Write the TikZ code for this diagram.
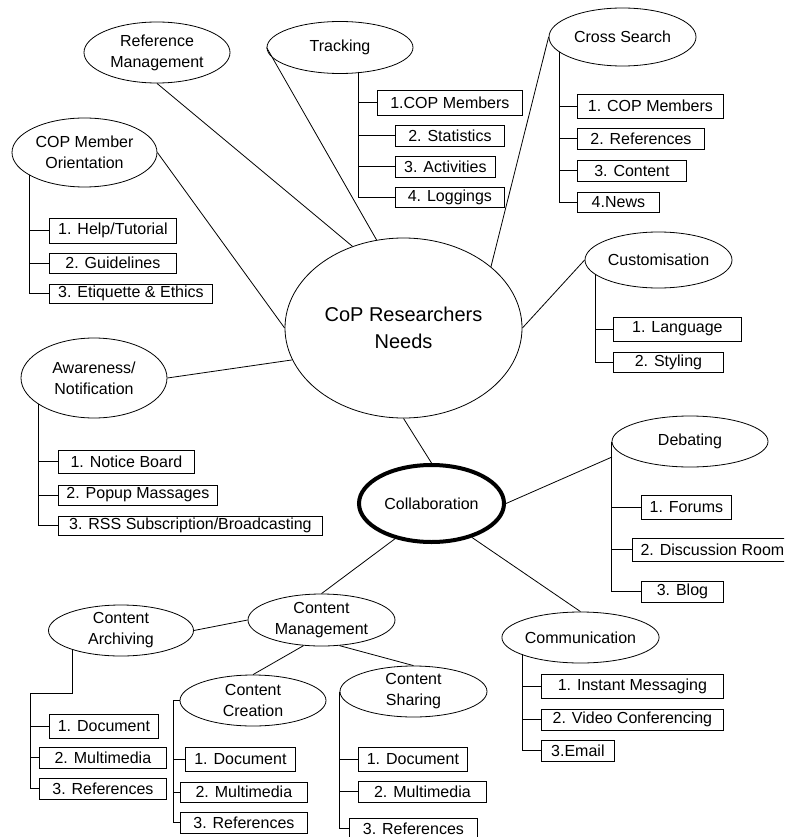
\documentclass[tikz,border=0pt]{standalone}
\usepackage{fontspec}
\setmainfont{Liberation Sans}
\usetikzlibrary{shapes.geometric}

\begin{document}
\begin{tikzpicture}[x=1pt, y=-1pt, line width=0.8pt,
  need/.style={ellipse, draw, inner sep=0pt, align=center, font=\fontsize{16}{21}\selectfont},
  item/.style={rectangle, draw, inner sep=0pt, anchor=west, font=\fontsize{16}{19}\selectfont}]
  \useasboundingbox (0,0) rectangle (784,837);
  \clip (0,0) rectangle (784,837);

  % centre and collaboration
  \node[need, minimum width=237pt, minimum height=180pt, font=\fontsize{20}{27}\selectfont] (cop) at (403.5,328) {CoP Researchers\\Needs};
  \node[need, line width=4pt, minimum width=145pt, minimum height=77pt] (collab) at (431.5,503.5) {Collaboration};

  % needs round the centre
  \node[need, minimum width=146pt, minimum height=61pt] (refm) at (157,52.5) {Reference\\Management};
  \node[need, minimum width=146pt, minimum height=52pt] (trk) at (340,47.5) {Tracking};
  \node[need, minimum width=147pt, minimum height=58pt] (xsr) at (622.5,37) {Cross Search};
  \node[need, minimum width=147pt, minimum height=56pt] (cust) at (658.5,260) {Customisation};
  \node[need, minimum width=145pt, minimum height=69pt] (orient) at (84.5,152.5) {COP Member\\Orientation};
  \node[need, minimum width=146pt, minimum height=80pt] (aware) at (94,378) {Awareness/\\Notification};

  % needs under collaboration
  \node[need, minimum width=156pt, minimum height=51pt] (deb) at (690,441.5) {Debating};
  \node[need, minimum width=155pt, minimum height=51pt] (com) at (580.5,637.5) {Communication};
  \node[need, minimum width=147pt, minimum height=52pt] (cmg) at (321.5,620) {Content\\Management};
  \node[need, minimum width=145pt, minimum height=51pt] (carch) at (121,630.5) {Content\\Archiving};
  \node[need, minimum width=146pt, minimum height=51pt] (ccre) at (253,700.5) {Content\\Creation};
  \node[need, minimum width=147pt, minimum height=51pt] (cshr) at (413.5,691.5) {Content\\Sharing};

  % tracking list
  \node[item, minimum width=145pt, minimum height=25pt] (trk1) at (377,102.5) {1.COP Members};
  \node[item, minimum width=109pt, minimum height=21pt] (trk2) at (395,135.5) {2. Statistics};
  \node[item, minimum width=100pt, minimum height=21pt] (trk3) at (395,166.5) {3. Activities};
  \node[item, minimum width=109pt, minimum height=20pt] (trk4) at (395,197) {4. Loggings};
  \coordinate (trkT) at (358,72);

  % cross search list
  \node[item, minimum width=146pt, minimum height=24pt] (xs1) at (577,106) {1. COP Members};
  \node[item, minimum width=127pt, minimum height=21pt] (xs2) at (577,138.5) {2. References};
  \node[item, minimum width=109pt, minimum height=21pt] (xs3) at (577,170.5) {3. Content};
  \node[item, minimum width=82pt, minimum height=20pt] (xs4) at (577,202) {4.News};
  \coordinate (xsrT) at (559,52);

  % customisation list
  \node[item, minimum width=128pt, minimum height=24pt] (cu1) at (613,329) {1. Language};
  \node[item, minimum width=110pt, minimum height=20pt] (cu2) at (613,362) {2. Styling};
  \coordinate (custT) at (595,274);

  % orientation list
  \node[item, minimum width=127pt, minimum height=25pt] (or1) at (49,230.5) {1. Help/Tutorial};
  \node[item, minimum width=127pt, minimum height=20pt] (or2) at (49,263) {2. Guidelines};
  \node[item, minimum width=163pt, minimum height=19pt] (or3) at (49,293.5) {3. Etiquette \& Ethics};
  \coordinate (orientT) at (29,175);

  % awareness list
  \node[item, minimum width=136pt, minimum height=23pt] (aw1) at (58,461.5) {1. Notice Board};
  \node[item, minimum width=159pt, minimum height=20pt] (aw2) at (58,495) {2. Popup Massages};
  \node[item, minimum width=264pt, minimum height=19pt] (aw3) at (58,525.5) {3. RSS Subscription/Broadcasting};
  \coordinate (awareT) at (38,404);

  % debating list
  \node[item, minimum width=90pt, minimum height=24pt] (db1) at (641,507) {1. Forums};
  \node[item, minimum width=160pt, minimum height=23pt] (db2) at (632,549.5) {2. Discussion Room};
  \node[item, minimum width=82pt, minimum height=21pt] (db3) at (641,591.5) {3. Blog};
  \coordinate (debJ) at (612,457);

  % communication list
  \node[item, minimum width=182pt, minimum height=24pt] (com1) at (541,686) {1. Instant Messaging};
  \node[item, minimum width=182pt, minimum height=21pt] (com2) at (541,719.5) {2. Video Conferencing};
  \node[item, minimum width=73pt, minimum height=21pt] (com3) at (541,750.5) {3.Email};
  \coordinate (comT) at (522,654);

  % content lists
  \node[item, minimum width=109pt, minimum height=24pt] (ca1) at (49,726) {1. Document};
  \node[item, minimum width=127pt, minimum height=21pt] (ca2) at (39,757.5) {2. Multimedia};
  \node[item, minimum width=127pt, minimum height=21pt] (ca3) at (39,788.5) {3. References};
  \coordinate (carchT) at (72,649);
  \coordinate (carchK) at (30,693);

  \node[item, minimum width=110pt, minimum height=24pt] (cc1) at (185,759) {1. Document};
  \node[item, minimum width=127pt, minimum height=20pt] (cc2) at (180,792) {2. Multimedia};
  \node[item, minimum width=127pt, minimum height=21pt] (cc3) at (180,822.5) {3. References};
  \coordinate (ccreK) at (173,700.5);

  \node[item, minimum width=109pt, minimum height=24pt] (cs1) at (358,759) {1. Document};
  \node[item, minimum width=128pt, minimum height=21pt] (cs2) at (358,791.5) {2. Multimedia};
  \node[item, minimum width=128pt, minimum height=21pt] (cs3) at (349,828.5) {3. References};

  % links to the centre
  \draw (refm.south) -- (cop.122);
  \draw (trk.west) -- (cop.107);
  \draw (xsr.west) -- (cop.35);
  \draw (cust.west) -- (cop.east);
  \draw (orient.east) -- (cop.west);
  \draw (aware.east) -- (cop.196);
  \draw (cop.south) -- (collab.north);

  % links under collaboration
  \draw (collab.east) -- (debJ);
  \draw (collab.320) -- (com.north);
  \draw (collab.224) -- (cmg.north);
  \draw (cmg.west) -- (carch.east);
  \draw (cmg.235) -- (ccre.north);
  \draw (cmg.305) -- (cshr.north);

  % list trees
  \foreach \i in {1,...,4} \draw (trkT) |- (trk\i.west);
  \foreach \i in {1,...,4} \draw (xsrT) |- (xs\i.west);
  \foreach \i in {1,2} \draw (custT) |- (cu\i.west);
  \foreach \i in {1,2,3} \draw (orientT) |- (or\i.west);
  \foreach \i in {1,2,3} \draw (awareT) |- (aw\i.west);
  \foreach \i in {1,2,3} \draw (deb.west) |- (db\i.west);
  \foreach \i in {1,2,3} \draw (comT) |- (com\i.west);
  \draw (carchT) |- (carchK);
  \foreach \i in {1,2,3} \draw (carchK) |- (ca\i.west);
  \draw (ccre.west) -- (ccreK);
  \foreach \i in {1,2,3} \draw (ccreK) |- (cc\i.west);
  \foreach \i in {1,2,3} \draw (cshr.west) |- (cs\i.west);
\end{tikzpicture}
\end{document}
